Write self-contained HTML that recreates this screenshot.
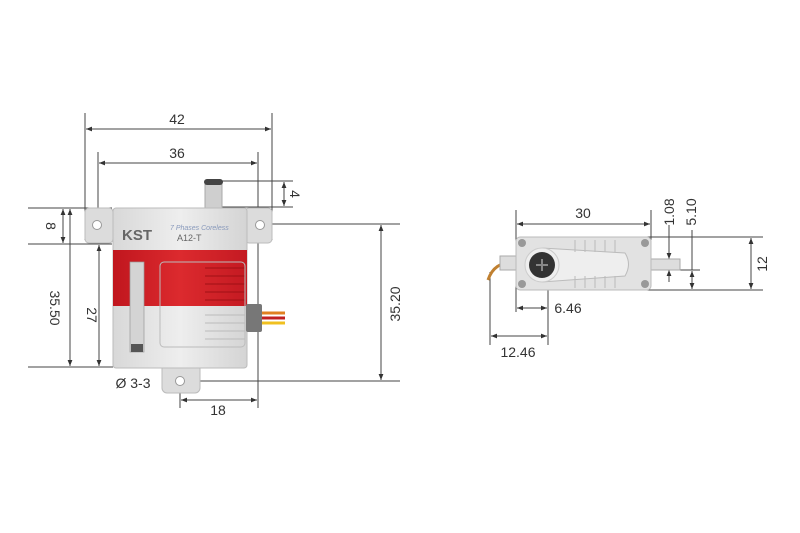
<!DOCTYPE html>
<html><head><meta charset="utf-8"><style>
html,body{margin:0;padding:0;background:#fff;}
svg{display:block;}
text{font-family:"Liberation Sans",sans-serif;fill:#333;}
</style></head><body>
<svg width="800" height="533" viewBox="0 0 800 533" xmlns="http://www.w3.org/2000/svg">
<defs>
<marker id="a" viewBox="0 0 10 10" refX="10" refY="5" markerWidth="6" markerHeight="6" orient="auto-start-reverse"><path d="M0,1 L10,5 L0,9 z" fill="#333"/></marker>
<linearGradient id="g" x1="0" x2="1"><stop offset="0" stop-color="#d8d8d8"/><stop offset=".5" stop-color="#eeeeee"/><stop offset="1" stop-color="#d4d4d4"/></linearGradient>
<linearGradient id="r" x1="0" x2="1"><stop offset="0" stop-color="#c0161e"/><stop offset=".5" stop-color="#dc2a2e"/><stop offset="1" stop-color="#c41a22"/></linearGradient>
</defs>
<g stroke="#444" stroke-width="1" fill="none">
<line x1="85" y1="113" x2="85" y2="240"/><line x1="272" y1="113" x2="272" y2="240"/>
<line x1="86" y1="129" x2="271" y2="129" marker-start="url(#a)" marker-end="url(#a)"/>
<line x1="98" y1="152" x2="98" y2="212"/><line x1="258" y1="152" x2="258" y2="408"/>
<line x1="99" y1="163" x2="257" y2="163" marker-start="url(#a)" marker-end="url(#a)"/>
<line x1="222" y1="181" x2="293" y2="181"/><line x1="222" y1="207" x2="293" y2="207"/>
<line x1="284" y1="182" x2="284" y2="206" marker-start="url(#a)" marker-end="url(#a)"/>
<line x1="28" y1="208" x2="112" y2="208"/><line x1="28" y1="244" x2="112" y2="244"/>
<line x1="63" y1="209" x2="63" y2="243" marker-start="url(#a)" marker-end="url(#a)"/>
<line x1="28" y1="367" x2="113" y2="367"/>
<line x1="70" y1="209" x2="70" y2="366" marker-start="url(#a)" marker-end="url(#a)"/>
<line x1="99" y1="245" x2="99" y2="366" marker-start="url(#a)" marker-end="url(#a)"/>
<line x1="262" y1="224" x2="400" y2="224"/><line x1="180" y1="381" x2="400" y2="381"/>
<line x1="381" y1="225" x2="381" y2="380" marker-start="url(#a)" marker-end="url(#a)"/>
<line x1="180" y1="381" x2="180" y2="408"/>
<line x1="181" y1="400" x2="257" y2="400" marker-start="url(#a)" marker-end="url(#a)"/>
</g>
<rect x="85" y="208" width="28" height="35" rx="4" fill="#dcdcdc" stroke="#bbb"/>
<rect x="245" y="208" width="27" height="35" rx="4" fill="#dcdcdc" stroke="#bbb"/>
<circle cx="97" cy="225" r="4.5" fill="#fff" stroke="#999"/>
<circle cx="260" cy="225" r="4.5" fill="#fff" stroke="#999"/>
<rect x="162" y="360" width="38" height="33" rx="5" fill="#dcdcdc" stroke="#bbb"/>
<circle cx="180" cy="381" r="4.5" fill="#fff" stroke="#999"/>
<rect x="205" y="183" width="17" height="25" fill="#cfcfcf" stroke="#aaa"/>
<rect x="204" y="179" width="19" height="6" rx="3" fill="#444"/>
<rect x="113" y="208" width="134" height="160" rx="3" fill="url(#g)" stroke="#bbb"/>
<rect x="113" y="250" width="134" height="56" fill="url(#r)"/>
<rect x="130" y="262" width="14" height="90" fill="#d4d4d4" stroke="#999" stroke-width=".7"/>
<rect x="131" y="344" width="12" height="8" fill="#555"/>
<g stroke="#a01015" stroke-width="1">
<line x1="205" y1="268" x2="245" y2="268"/><line x1="205" y1="276" x2="245" y2="276"/><line x1="205" y1="284" x2="245" y2="284"/><line x1="205" y1="292" x2="245" y2="292"/><line x1="205" y1="300" x2="245" y2="300"/>
</g>
<g stroke="#bbb" stroke-width="1">
<line x1="205" y1="315" x2="245" y2="315"/><line x1="205" y1="323" x2="245" y2="323"/><line x1="205" y1="331" x2="245" y2="331"/><line x1="205" y1="339" x2="245" y2="339"/>
<rect x="160" y="262" width="85" height="85" rx="4" fill="none"/>
</g>
<text x="122" y="240" font-size="15" font-weight="bold" style="fill:#666">KST</text>
<text x="170" y="230" font-size="7" font-style="italic" style="fill:#8899bb">7 Phases Coreless</text>
<text x="177" y="241" font-size="9" style="fill:#666">A12-T</text>
<rect x="246" y="304" width="16" height="28" rx="2" fill="#777"/>
<line x1="262" y1="313" x2="285" y2="313" stroke="#e08020" stroke-width="3"/>
<line x1="262" y1="318" x2="285" y2="318" stroke="#c02020" stroke-width="3"/>
<line x1="262" y1="323" x2="285" y2="323" stroke="#f0c020" stroke-width="3"/>
<g font-size="14" text-anchor="middle">
<text x="177" y="124">42</text>
<text x="177" y="158">36</text>
<text x="218" y="415">18</text>
<text x="133" y="388">Ø 3-3</text>
<text transform="translate(290,194) rotate(90)">4</text>
<text transform="translate(46,226) rotate(90)">8</text>
<text transform="translate(50,308) rotate(90)">35.50</text>
<text transform="translate(87,315) rotate(90)">27</text>
<text transform="translate(400,304) rotate(-90)">35.20</text>
</g>
<g stroke="#444" stroke-width="1" fill="none">
<line x1="516" y1="210" x2="516" y2="312"/><line x1="651" y1="210" x2="651" y2="240"/>
<line x1="517" y1="224" x2="650" y2="224" marker-start="url(#a)" marker-end="url(#a)"/>
<line x1="633" y1="237" x2="763" y2="237"/><line x1="633" y1="290" x2="763" y2="290"/>
<line x1="751" y1="238" x2="751" y2="289" marker-start="url(#a)" marker-end="url(#a)"/>
<line x1="660" y1="259" x2="680" y2="259"/><line x1="660" y1="270" x2="700" y2="270"/>
<line x1="669" y1="225" x2="669" y2="259" marker-end="url(#a)"/>
<line x1="669" y1="282" x2="669" y2="270" marker-end="url(#a)"/>
<line x1="692" y1="230" x2="692" y2="270"/>
<line x1="692" y1="271" x2="692" y2="289" marker-start="url(#a)" marker-end="url(#a)"/>
<line x1="548" y1="270" x2="548" y2="345"/>
<line x1="517" y1="308" x2="547" y2="308" marker-start="url(#a)" marker-end="url(#a)"/>
<line x1="490" y1="272" x2="490" y2="345"/>
<line x1="491" y1="336" x2="547" y2="336" marker-start="url(#a)" marker-end="url(#a)"/>
</g>
<path d="M515,262 C500,262 492,268 488,280" stroke="#c08030" stroke-width="3" fill="none"/>
<rect x="500" y="256" width="16" height="14" fill="#ddd" stroke="#aaa"/>
<rect x="651" y="259" width="29" height="11" fill="#ddd" stroke="#aaa"/>
<rect x="516" y="237" width="135" height="53" rx="4" fill="#e2e2e2" stroke="#bbb"/>
<path d="M542,248 L625,253 Q632,264 625,276 L542,282 Z" fill="#eee" stroke="#bbb"/>
<g stroke="#bbb"><line x1="575" y1="240" x2="575" y2="252"/><line x1="585" y1="240" x2="585" y2="252"/><line x1="595" y1="240" x2="595" y2="252"/><line x1="605" y1="240" x2="605" y2="252"/><line x1="615" y1="240" x2="615" y2="252"/><line x1="575" y1="276" x2="575" y2="288"/><line x1="585" y1="276" x2="585" y2="288"/><line x1="595" y1="276" x2="595" y2="288"/><line x1="605" y1="276" x2="605" y2="288"/><line x1="615" y1="276" x2="615" y2="288"/></g>
<circle cx="542" cy="265" r="17" fill="#eee" stroke="#ccc"/>
<circle cx="542" cy="265" r="13" fill="#333"/>
<path d="M536,265 h12 M542,259 v12" stroke="#888" stroke-width="2"/>
<circle cx="522" cy="243" r="4" fill="#999"/><circle cx="645" cy="243" r="4" fill="#999"/>
<circle cx="522" cy="284" r="4" fill="#999"/><circle cx="645" cy="284" r="4" fill="#999"/>
<g font-size="14" text-anchor="middle">
<text x="583" y="218">30</text>
<text x="568" y="313">6.46</text>
<text x="518" y="357">12.46</text>
<text transform="translate(767,264) rotate(-90)">12</text>
<text transform="translate(674,212) rotate(-90)">1.08</text>
<text transform="translate(696,212) rotate(-90)">5.10</text>
</g>
</svg>
</body></html>
